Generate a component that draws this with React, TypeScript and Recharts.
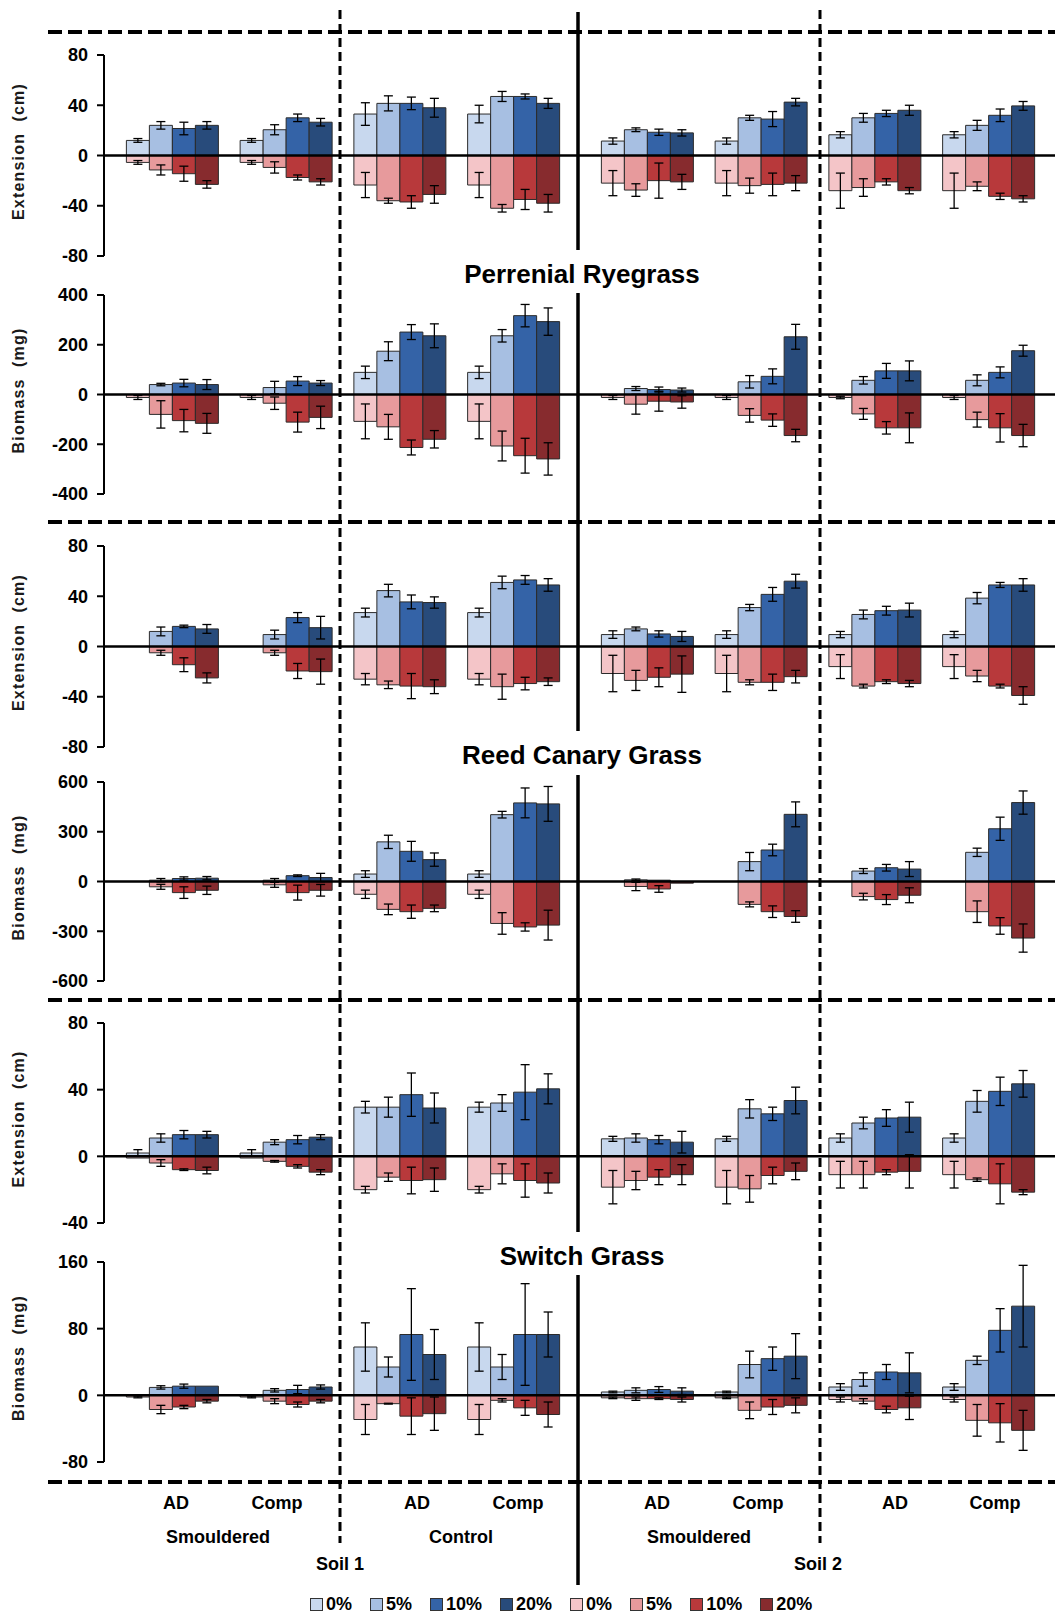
import React from "react"
import { BarChart, Bar, XAxis, YAxis, ReferenceLine, ErrorBar } from "recharts"

// group order left to right: Soil 1 (Smouldered AD, Smouldered Comp, Control AD, Control Comp), then Soil 2 (same)
const groups = [
  "S1 Smouldered AD", "S1 Smouldered Comp", "S1 Control AD", "S1 Control Comp",
  "S2 Smouldered AD", "S2 Smouldered Comp", "S2 Control AD", "S2 Control Comp",
]
const levels = ["0%", "5%", "10%", "20%"]

// Perennial ryegrass - extension (cm)
const ryeExtBlue = [[12, 24, 21.5, 24], [12, 20.5, 30, 26.5], [33, 41.5, 41.5, 38], [33, 47, 47, 41.5], [11.5, 20.5, 18.5, 18], [11.5, 30, 29, 42.5], [16.5, 30, 33.5, 36], [16.5, 24, 32, 39.5]]
const ryeExtBlueErr = [[1.5, 3, 5, 3], [1.5, 4, 3, 3], [9, 6, 5, 7.5], [7, 4, 2, 4], [2.5, 1.5, 2.5, 2.5], [2.5, 2, 6, 3], [2.5, 3.5, 2.5, 4], [2.5, 4, 5, 3.5]]
const ryeExtRed = [[-5.5, -11.5, -14.5, -23], [-5.5, -9.5, -17.5, -21], [-23.5, -36, -37, -31], [-23.5, -42, -35, -38], [-22, -27.5, -20, -21], [-22, -24, -23, -22], [-28, -25.5, -21, -28], [-28, -24.5, -32.5, -34.5]]
const ryeExtRedErr = [[1.5, 4, 6, 3], [1.5, 4.5, 2, 2.5], [10, 2, 5, 7], [10, 3, 8, 7], [10, 5, 14, 6], [10, 6, 9, 6], [14, 7, 2.5, 2.5], [14, 3.5, 2.5, 2.5]]

// Perennial ryegrass - biomass (mg)
const ryeBioBlue = [[0, 40, 46, 40], [0, 28, 54, 46], [89, 174, 251, 236], [89, 236, 317, 293], [0, 24, 20, 18], [0, 51, 73, 232], [0, 57, 95, 95], [0, 57, 89, 176]]
const ryeBioBlueErr = [[0, 5, 15, 20], [0, 25, 18, 10], [25, 38, 30, 48], [25, 25, 45, 55], [0, 8, 10, 8], [0, 25, 30, 50], [0, 15, 30, 40], [0, 22, 22, 22]]
const ryeBioRed = [[-12, -80, -105, -116], [-12, -35, -111, -92], [-108, -130, -213, -180], [-108, -207, -246, -259], [-12, -39, -27, -30], [-12, -84, -103, -165], [-12, -78, -134, -134], [-12, -101, -134, -165]]
const ryeBioRedErr = [[8, 55, 45, 40], [8, 25, 40, 45], [70, 50, 30, 35], [70, 60, 70, 65], [8, 40, 40, 25], [8, 27, 25, 25], [5, 22, 25, 60], [8, 30, 57, 45]]

// Reed canary grass - extension (cm)
const reedExtBlue = [[0, 12, 16, 14], [0, 9.5, 23, 15], [27, 44.5, 35.5, 35], [27, 51, 53, 49], [9.5, 14, 10, 8], [9.5, 31, 41.5, 52], [9.5, 25.5, 28.5, 29], [9.5, 38.5, 49, 49]]
const reedExtBlueErr = [[0, 3.5, 1, 3.5], [0, 3.5, 4, 9], [3.5, 5, 5.5, 4.5], [3.5, 5, 3.5, 5], [3, 1.5, 2.5, 4], [3, 2.5, 5.5, 5.5], [2.5, 3.5, 3.5, 5.5], [2.5, 4.5, 2, 5]]
const reedExtRed = [[0, -5, -14.5, -25], [0, -5, -19.5, -20], [-26, -30.5, -31.5, -32], [-26, -32, -29.5, -28], [-21.5, -27, -24.5, -22], [-21.5, -28.5, -28.5, -24], [-16, -31.5, -28, -29.5], [-16, -23.5, -31.5, -39]]
const reedExtRedErr = [[0, 2, 5.5, 4], [0, 2, 6, 10], [4.5, 3, 10, 5.5], [4.5, 10, 5, 3], [14.5, 8, 7.5, 14.5], [14.5, 2, 6.5, 5], [9.5, 1.5, 1.5, 2.5], [9.5, 4.5, 1.5, 7]]

// Reed canary grass - biomass (mg)
const reedBioBlue = [[0, 8, 18, 20], [0, 8, 35, 24], [45, 239, 182, 132], [45, 403, 474, 468], [0, 10, 8, 0], [0, 120, 190, 405], [0, 63, 83, 75], [0, 176, 318, 476]]
const reedBioBlueErr = [[0, 10, 10, 10], [0, 10, 5, 25], [20, 40, 60, 40], [20, 20, 90, 105], [0, 5, 0, 0], [0, 55, 35, 75], [0, 15, 20, 45], [0, 25, 70, 70]]
const reedBioRed = [[0, -32, -67, -53], [0, -20, -67, -53], [-77, -168, -182, -162], [-77, -253, -274, -263], [0, -30, -45, -10], [0, -138, -182, -211], [0, -91, -109, -83], [0, -182, -268, -341]]
const reedBioRedErr = [[0, 15, 35, 25], [0, 15, 45, 35], [25, 32, 40, 20], [25, 65, 25, 90], [0, 25, 20, 0], [0, 15, 35, 35], [0, 20, 30, 45], [0, 65, 50, 85]]

// Switch grass - extension (cm)
const switchExtBlue = [[2, 11, 13, 13], [2, 8.5, 10, 11.5], [29.5, 29.5, 37, 29], [29.5, 32, 38.5, 40.5], [10.5, 11, 10, 8.5], [10.5, 28.5, 25.5, 33.5], [11, 20, 23, 23.5], [11, 33, 39, 43.5]]
const switchExtBlueErr = [[2, 2.5, 2.5, 2], [2, 1.5, 2.5, 1.5], [3.5, 6, 13, 9], [3, 5, 16.5, 9], [1.5, 2.5, 2.5, 6.5], [1.5, 5.5, 4, 8], [2.5, 3.5, 5, 9], [2.5, 6.5, 8.5, 8]]
const switchExtRed = [[-1, -4, -8, -8.5], [-1, -3, -6, -9.5], [-20, -12.5, -14.5, -14], [-20, -10.5, -14.5, -16], [-18.5, -14.5, -12.5, -11], [-18.5, -19.5, -11.5, -9], [-11, -11, -9.5, -9], [-11, -14, -16.5, -21.5]]
const switchExtRedErr = [[0, 2, 0.5, 2], [0, 0.5, 1, 1.5], [2, 2.5, 8, 7], [2, 6, 10, 6], [10, 5.5, 4.5, 6], [10, 8, 5, 5], [8, 8, 1.5, 10], [8, 1, 12, 1.5]]

// Switch grass - biomass (mg)
const switchBioBlue = [[0, 9.5, 11, 11], [0, 6, 7, 10], [58, 34, 73, 49], [58, 34, 73, 73], [4, 6, 7, 5], [4, 37, 44, 47], [10, 19, 28, 27], [10, 42, 78, 107]]
const switchBioBlueErr = [[0, 2, 2.5, 0], [0, 2, 5, 2.5], [29, 12, 55, 30], [29, 15, 61, 27], [1, 3, 3.5, 4], [1, 16, 14, 27], [4, 8, 9, 24], [4, 5, 26, 49]]
const switchBioRed = [[-2, -17, -14, -7], [-2, -7, -11, -7], [-29, -10, -25, -22], [-29, -6, -15, -23], [-3, -4, -4, -5], [-3, -18, -14, -12], [-5, -7, -17, -15], [-5, -30, -33, -42]]
const switchBioRedErr = [[1, 5, 2, 2], [1, 3, 3, 2], [18, 0.5, 22, 20], [18, 2, 9, 15], [1, 2, 1, 3], [1, 10, 9, 9], [3, 3, 4, 14], [3, 19, 23, 24]]

const ticks80 = [-80, -40, 0, 40, 80]
const ticks400 = [-400, -200, 0, 200, 400]
const ticks600 = [-600, -300, 0, 300, 600]
const ticksSwExt = [-40, 0, 40, 80]
const ticksSwBio = [-80, 0, 80, 160]

const titles = ["Perrenial Ryegrass", "Reed Canary Grass", "Switch Grass"]
const yLabels = ["Extension  (cm)", "Biomass  (mg)"]
const amendLabels = ["AD", "Comp", "AD", "Comp", "AD", "Comp", "AD", "Comp"]
const treatLabels = ["Smouldered", "Control", "Smouldered"]
const soilLabels = ["Soil 1", "Soil 2"]

const blueColors = ["#c8d8ee", "#a7bfe2", "#3463a7", "#284b7b"]
const redColors = ["#f4c5c8", "#e79a9c", "#b8393b", "#872b2e"]

// layout (px)
const W = 1055
const H = 1615
const panelTop = [55, 295, 546, 782, 1023, 1262]
const panelBottom = [256, 494, 747, 981, 1223, 1462]
const axisX = 104
const splitX = 578
const dashedV = [340, 820]
const dashedH = [32, 522, 1000, 1482]
const titleY = [283, 764, 1265]
const solidSegs = [[12, 250], [293, 731], [775, 1232], [1275, 1585]]
const amendX = [176, 277, 417, 518, 657, 758, 895, 995]
const treatX = [218, 461, 699]
const soilX = [340, 818]
const M = 10

type Row = Record<string, number | string>

function buildRows(blue: number[][], blueErr: number[][], red: number[][], redErr: number[][]): Row[] {
  return groups.map((name, g) => {
    const row: Row = { name }
    levels.forEach((_, k) => {
      row["b" + k] = blue[g][k]
      row["eb" + k] = blueErr[g][k]
      row["r" + k] = red[g][k]
      row["er" + k] = redErr[g][k]
    })
    return row
  })
}

const panels = [
  { rows: buildRows(ryeExtBlue, ryeExtBlueErr, ryeExtRed, ryeExtRedErr), domain: [-80, 80], ticks: ticks80, label: yLabels[0] },
  { rows: buildRows(ryeBioBlue, ryeBioBlueErr, ryeBioRed, ryeBioRedErr), domain: [-400, 400], ticks: ticks400, label: yLabels[1] },
  { rows: buildRows(reedExtBlue, reedExtBlueErr, reedExtRed, reedExtRedErr), domain: [-80, 80], ticks: ticks80, label: yLabels[0] },
  { rows: buildRows(reedBioBlue, reedBioBlueErr, reedBioRed, reedBioRedErr), domain: [-600, 600], ticks: ticks600, label: yLabels[1] },
  { rows: buildRows(switchExtBlue, switchExtBlueErr, switchExtRed, switchExtRedErr), domain: [-40, 80], ticks: ticksSwExt, label: yLabels[0] },
  { rows: buildRows(switchBioBlue, switchBioBlueErr, switchBioRed, switchBioRedErr), domain: [-80, 160], ticks: ticksSwBio, label: yLabels[1] },
]

interface SoilChartProps {
  data: Row[]
  domain: number[]
  ticks: number[]
  left: number
  width: number
  top: number
  height: number
  showAxis: boolean
  padL: number
  padR: number
}

function SoilChart({ data, domain, ticks, left, width, top, height, showAxis, padL, padR }: SoilChartProps) {
  return (
    <div style={{ position: "absolute", left, top: top - M, width, height: height + 2 * M }}>
      <BarChart
        width={width}
        height={height + 2 * M}
        data={data}
        stackOffset="sign"
        barCategoryGap="10%"
        barGap={0}
        margin={{ top: M, right: 0, bottom: M, left: 0 }}
      >
        <XAxis dataKey="name" hide padding={{ left: padL, right: padR }} />
        <YAxis
          hide={!showAxis}
          width={axisX}
          domain={domain}
          ticks={ticks}
          allowDataOverflow
          interval={0}
          tickSize={7}
          tickMargin={9}
          axisLine={{ stroke: "#000", strokeWidth: 2 }}
          tickLine={{ stroke: "#000", strokeWidth: 2 }}
          tick={{ fill: "#000", fontSize: 18, fontWeight: 700 }}
        />
        {levels.map((lv, k) => [
          <Bar key={"b" + k} name={lv} dataKey={"b" + k} stackId={"s" + k} fill={blueColors[k]} stroke="#2b2b2b" strokeWidth={1} isAnimationActive={false}>
            <ErrorBar dataKey={"eb" + k} width={4.5} stroke="#000" strokeWidth={1.3} isAnimationActive={false} />
          </Bar>,
          <Bar key={"r" + k} name={lv} dataKey={"r" + k} stackId={"s" + k} fill={redColors[k]} stroke="#2b2b2b" strokeWidth={1} isAnimationActive={false}>
            <ErrorBar dataKey={"er" + k} width={4.5} stroke="#000" strokeWidth={1.3} isAnimationActive={false} />
          </Bar>,
        ])}
        <ReferenceLine y={0} stroke="#000" strokeWidth={2.5} />
      </BarChart>
    </div>
  )
}

export default function App() {
  const font = "'Liberation Sans', Arial, sans-serif"
  const legendItems = [...levels.map((l, k) => ({ l, c: blueColors[k] })), ...levels.map((l, k) => ({ l, c: redColors[k] }))]
  return (
    <div style={{ position: "absolute", left: 0, top: 0, width: W, height: H, background: "#fff", fontFamily: font, overflow: "hidden" }}>
      {panels.map((p, i) => {
        const top = panelTop[i]
        const height = panelBottom[i] - panelTop[i]
        return (
          <React.Fragment key={i}>
            <SoilChart data={p.rows.slice(0, 4)} domain={p.domain} ticks={p.ticks} left={0} width={splitX} top={top} height={height} showAxis padL={11} padR={8} />
            <SoilChart data={p.rows.slice(4)} domain={p.domain} ticks={p.ticks} left={splitX} width={W - splitX} top={top} height={height} showAxis={false} padL={12} padR={10} />
          </React.Fragment>
        )
      })}
      <svg width={W} height={H} style={{ position: "absolute", left: 0, top: 0, pointerEvents: "none" }} fontFamily={font}>
        {dashedH.map((y, i) => (
          <line key={"h" + i} x1={48} x2={W} y1={y} y2={y} stroke="#000" strokeWidth={4} strokeDasharray="14 6" />
        ))}
        {dashedV.map((x, i) => (
          <line key={"v" + i} x1={x} x2={x} y1={10} y2={1543} stroke="#000" strokeWidth={3} strokeDasharray="9 5" />
        ))}
        {solidSegs.map(([a, b], i) => (
          <line key={"s" + i} x1={splitX} x2={splitX} y1={a} y2={b} stroke="#000" strokeWidth={3.5} />
        ))}
        {titles.map((t, i) => (
          <text key={"t" + i} x={582} y={titleY[i]} textAnchor="middle" fontSize={26} fontWeight={700} fill="#000">{t}</text>
        ))}
        {panels.map((p, i) => {
          const cy = (panelTop[i] + panelBottom[i]) / 2 - 4
          return (
            <text key={"y" + i} x={24} y={cy} transform={`rotate(-90 24 ${cy})`} textAnchor="middle" fontSize={16} fontWeight={700} letterSpacing={1.2} fill="#1a1a1a" style={{ whiteSpace: "pre" }}>{p.label}</text>
          )
        })}
        {amendLabels.map((t, i) => (
          <text key={"a" + i} x={amendX[i]} y={1509} textAnchor="middle" fontSize={18} fontWeight={700} fill="#000">{t}</text>
        ))}
        {treatLabels.map((t, i) => (
          <text key={"tr" + i} x={treatX[i]} y={1543} textAnchor="middle" fontSize={18} fontWeight={700} fill="#000">{t}</text>
        ))}
        {soilLabels.map((t, i) => (
          <text key={"so" + i} x={soilX[i]} y={1570} textAnchor="middle" fontSize={18} fontWeight={700} fill="#000">{t}</text>
        ))}
      </svg>
      <div style={{ position: "absolute", left: 310, top: 1594, display: "flex", alignItems: "center", fontSize: 18, fontWeight: 700, color: "#000", lineHeight: "20px" }}>
        {legendItems.map((it, i) => (
          <div key={i} style={{ display: "flex", alignItems: "center", marginRight: 18 }}>
            <span style={{ display: "inline-block", width: 11, height: 11, background: it.c, border: "1px solid #333", marginRight: 3 }} />
            <span>{it.l}</span>
          </div>
        ))}
      </div>
    </div>
  )
}
